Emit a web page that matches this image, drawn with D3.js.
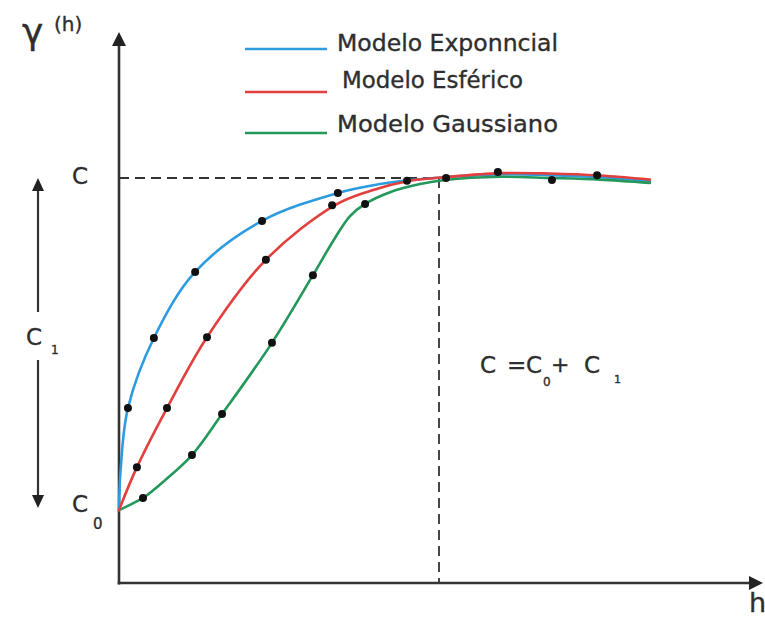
<!DOCTYPE html>
<html><head><meta charset="utf-8">
<script src="https://cdn.jsdelivr.net/npm/d3@7"></script>
<style>body{margin:0;background:#fff}svg{display:block}text{font-family:"DejaVu Sans",sans-serif;fill:#2e2e2e;stroke:#2e2e2e;stroke-width:0.35px}</style>
</head><body>
<svg id="c" width="765" height="619"></svg>
<script>
// ---- data (h in lag units, gamma normalized so sill C = 1) ----
const C0 = 0.18, C = 1, RANGE = 10;
const seriesNames = ["Modelo Exponncial", "Modelo Esférico", "Modelo Gaussiano"];
const seriesColors = ["#2d9be0", "#e2403e", "#23985a"];
const expH = [0, 0.05, 0.28, 1.09, 2.38, 4.47, 6.84, 8.16, 9.09, 10.19, 11.91, 13.47, 15.03, 16.59];
const expG = [0.18, 0.279, 0.432, 0.605, 0.768, 0.894, 0.963, 0.985, 0.995, 1.002, 1.009, 1.007, 1.002, 0.993];
const sphH = [0, 0.56, 1.5, 2.75, 4.59, 6.75, 7.84, 9.09, 10.19, 11.91, 13.47, 15.03, 16.59];
const sphG = [0.18, 0.286, 0.432, 0.607, 0.798, 0.933, 0.968, 0.993, 1.002, 1.012, 1.011, 1.006, 0.996];
const gauH = [0, 0.34, 0.75, 1.44, 2.28, 3.22, 4.78, 6.06, 6.75, 7.22, 7.69, 8.47, 9.41, 10.19, 11.91, 13.47, 15.03, 16.59];
const gauG = [0.18, 0.193, 0.21, 0.254, 0.316, 0.417, 0.593, 0.76, 0.852, 0.906, 0.936, 0.965, 0.985, 0.995, 1.003, 1.0, 0.996, 0.988];
// sample points (dots)
const expDotH = [0.28, 1.09, 2.38, 4.47, 6.84];
const expDotG = [0.432, 0.605, 0.768, 0.894, 0.963];
const sphDotH = [0.56, 1.5, 2.75, 4.59, 6.66];
const sphDotG = [0.286, 0.432, 0.607, 0.798, 0.933];
const gauDotH = [0.75, 2.28, 3.22, 4.78, 6.06, 7.69];
const gauDotG = [0.21, 0.316, 0.417, 0.593, 0.76, 0.936];
const sillDotH = [9.0, 10.22, 11.84, 13.53, 14.94];
const sillDotG = [0.993, 1.0, 1.015, 0.995, 1.007];

// ---- drawing ----
const svg = d3.select("#c");
const x = d3.scaleLinear().domain([0, 20]).range([119, 759]);
const y = d3.scaleLinear().domain([0, 1]).range([583, 178]);
const ink = "#333";

// dashed sill & range lines
svg.append("line").attr("x1", x(0)).attr("x2", x(RANGE) + 1).attr("y1", y(C)).attr("y2", y(C))
  .attr("stroke", ink).attr("stroke-width", 2).attr("stroke-dasharray", "10,6");
svg.append("line").attr("x1", x(RANGE)).attr("x2", x(RANGE)).attr("y1", y(C)).attr("y2", y(0))
  .attr("stroke", ink).attr("stroke-width", 1.8).attr("stroke-dasharray", "10,6");

// axes
svg.append("line").attr("x1", x(0)).attr("x2", x(0)).attr("y1", y(0) + 1.5).attr("y2", 44)
  .attr("stroke", ink).attr("stroke-width", 2.6);
svg.append("path").attr("d", `M${x(0)},32 L${x(0) - 7},46 L${x(0) + 7},46 Z`).attr("fill", "#222");
svg.append("line").attr("x1", x(0) - 1.3).attr("x2", 750).attr("y1", y(0)).attr("y2", y(0))
  .attr("stroke", ink).attr("stroke-width", 2.6);
svg.append("path").attr("d", `M763,${y(0)} L749,${y(0) - 7} L749,${y(0) + 7} Z`).attr("fill", "#222");

// C1 double arrow
const ax = 38;
svg.append("line").attr("x1", ax).attr("x2", ax).attr("y1", y(C) + 10).attr("y2", 312)
  .attr("stroke", ink).attr("stroke-width", 2.2);
svg.append("path").attr("d", `M${ax},${y(C)} L${ax - 6},${y(C) + 13} L${ax + 6},${y(C) + 13} Z`).attr("fill", "#222");
svg.append("line").attr("x1", ax).attr("x2", ax).attr("y1", 360).attr("y2", y(C0) - 10)
  .attr("stroke", ink).attr("stroke-width", 2.2);
svg.append("path").attr("d", `M${ax},${y(C0) - 2} L${ax - 6},${y(C0) - 15} L${ax + 6},${y(C0) - 15} Z`).attr("fill", "#222");

// curves
const line = d3.line().x(d => x(d[0])).y(d => y(d[1])).curve(d3.curveCatmullRom.alpha(0.5));
const curves = [d3.zip(expH, expG), d3.zip(gauH, gauG), d3.zip(sphH, sphG)];
const curveColors = [seriesColors[0], seriesColors[2], seriesColors[1]];
curves.forEach((pts, i) => {
  svg.append("path").attr("d", line(pts)).attr("fill", "none")
    .attr("stroke", curveColors[i]).attr("stroke-width", 2.6).attr("stroke-linecap", "round");
});

// dots
const dots = [].concat(d3.zip(expDotH, expDotG), d3.zip(sphDotH, sphDotG), d3.zip(gauDotH, gauDotG), d3.zip(sillDotH, sillDotG));
svg.selectAll("circle.dot").data(dots).join("circle").attr("class", "dot")
  .attr("cx", d => x(d[0])).attr("cy", d => y(d[1])).attr("r", 4).attr("fill", "#111");

// legend
const legY = [49, 92, 133];
const legTextY = [51, 88, 132];
const legTextX = [337, 342, 337];
const legW = [221, 181, 221];
seriesNames.forEach((n, i) => {
  svg.append("line").attr("x1", 245).attr("x2", 327).attr("y1", legY[i]).attr("y2", legY[i])
    .attr("stroke", seriesColors[i]).attr("stroke-width", 2.6);
  svg.append("text").attr("x", legTextX[i]).attr("y", legTextY[i]).attr("font-size", 23)
    .attr("textLength", legW[i]).attr("lengthAdjust", "spacingAndGlyphs").text(n);
});

// labels
svg.append("text").attr("x", 22).attr("y", 44).attr("font-size", 36).text("γ");
svg.append("text").attr("x", 54).attr("y", 31).attr("font-size", 20).text("(h)");
svg.append("text").attr("x", 72).attr("y", y(C) + 6).attr("font-size", 23).text("C");
svg.append("text").attr("x", 26).attr("y", 345).attr("font-size", 23).text("C");
svg.append("text").attr("x", 51).attr("y", 354).attr("font-size", 12).text("1");
svg.append("text").attr("x", 72).attr("y", 512).attr("font-size", 23).text("C");
svg.append("text").attr("x", 93).attr("y", 529).attr("font-size", 15).text("0");
svg.append("text").attr("x", 749).attr("y", 612).attr("font-size", 27).text("h");

// equation
svg.append("text").attr("x", 480).attr("y", 373).attr("font-size", 23).text("C");
svg.append("text").attr("x", 507).attr("y", 373).attr("font-size", 23).text("=");
svg.append("text").attr("x", 526).attr("y", 373).attr("font-size", 23).text("C");
svg.append("text").attr("x", 543).attr("y", 386).attr("font-size", 12).text("0");
svg.append("text").attr("x", 551).attr("y", 372).attr("font-size", 22).text("+");
svg.append("text").attr("x", 584).attr("y", 373).attr("font-size", 23).text("C");
svg.append("text").attr("x", 614).attr("y", 383).attr("font-size", 11).text("1");
</script>
</body></html>
